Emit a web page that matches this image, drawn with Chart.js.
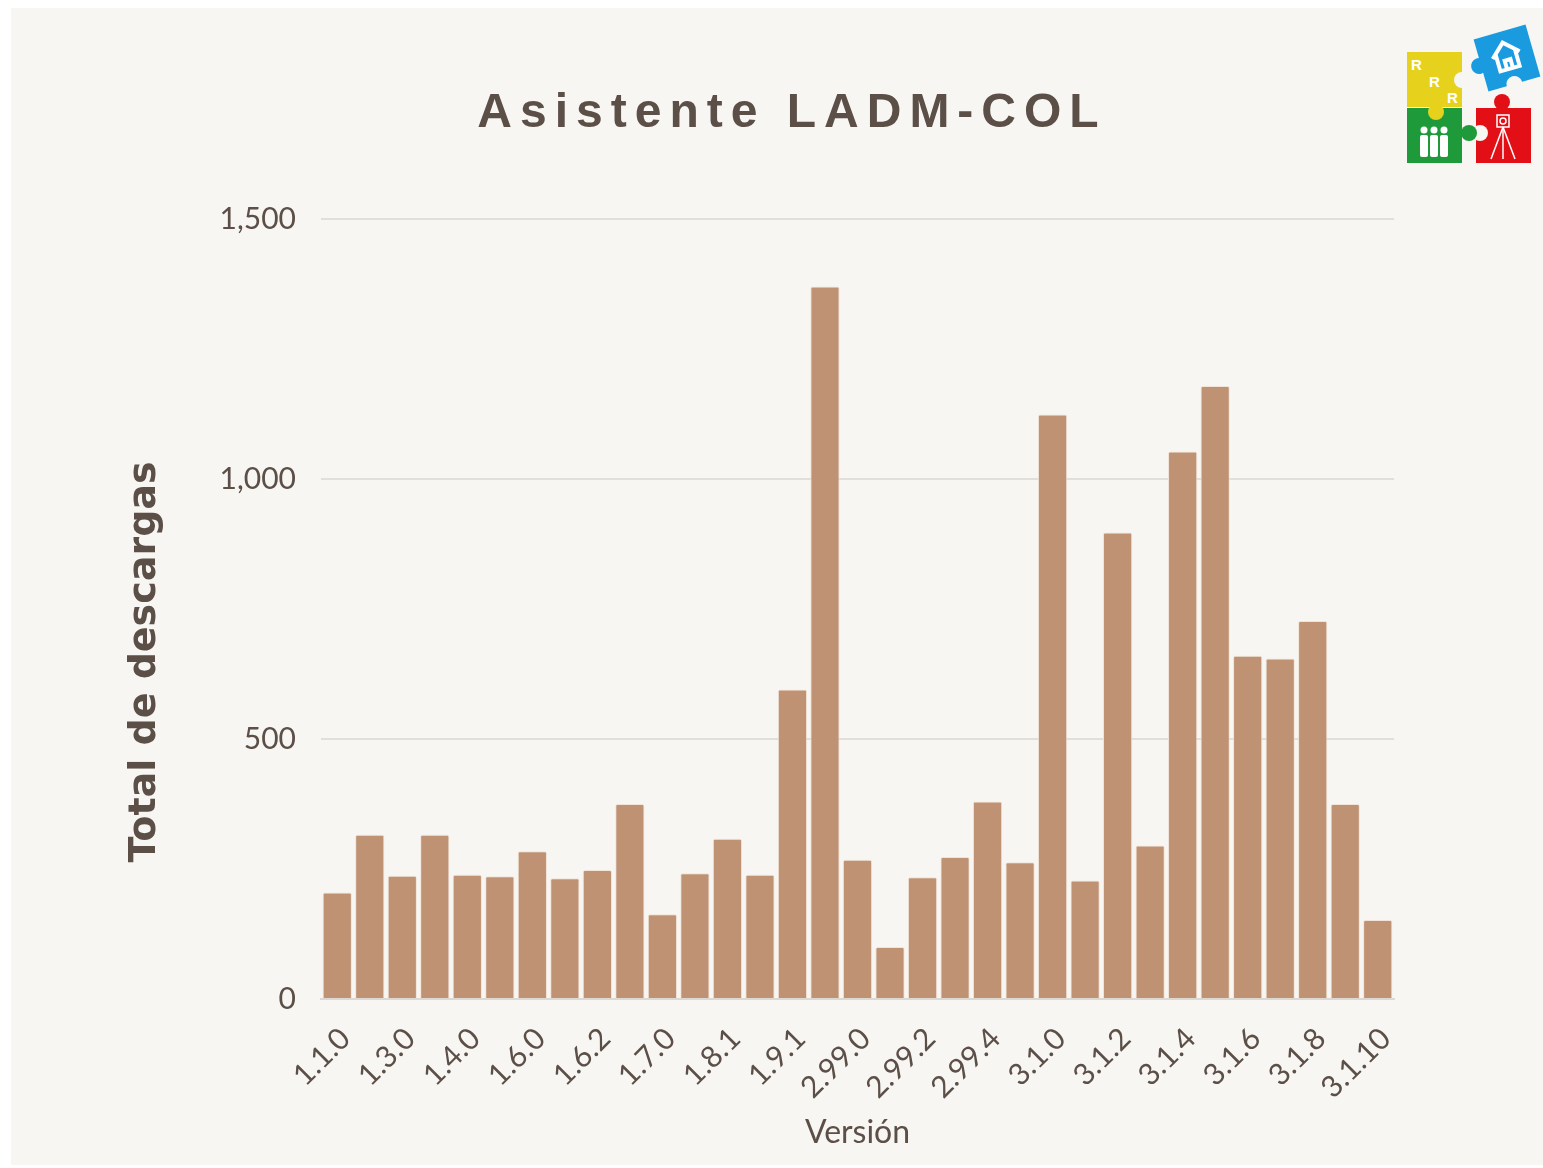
<!DOCTYPE html>
<html>
<head>
<meta charset="utf-8">
<script src="https://cdn.jsdelivr.net/npm/chart.js@4.4.0/dist/chart.umd.min.js"></script>
<style>
  html, body { margin: 0; padding: 0; background: #ffffff; }
  #wrap { position: relative; width: 1543px; height: 1168px; }
  #card { position: absolute; left: 11px; top: 8px; width: 1532px; height: 1157px; background: #f7f6f3; }
  canvas { position: absolute; left: 0; top: 0; }
  #logo { position: absolute; left: 1400px; top: 15px; width: 143px; height: 160px; }
</style>
</head>
<body>
<div id="wrap">
  <div id="card"></div>
  <canvas id="c" width="1543" height="1168"></canvas>
  <svg id="logo" viewBox="0 0 143 160" xmlns="http://www.w3.org/2000/svg">
    <!-- blue piece -->
    <g transform="rotate(-16 107 43)">
      <rect x="80" y="16" width="54" height="54" fill="#1a9be0"/>
      <circle cx="78" cy="43" r="8" fill="#1a9be0"/>
      <circle cx="107" cy="70" r="8" fill="#f7f6f3"/>
      <path d="M93 40 L107 27 L121 40 M97 37 L97 54 L117 54 L117 37 M104 54 L104 45 L110 45 L110 54" stroke="#fff" stroke-width="4" fill="none" stroke-linejoin="miter"/>
    </g>
    <!-- yellow piece -->
    <rect x="7" y="37" width="55" height="55" fill="#e6d21c"/>
    <circle cx="62" cy="65" r="8" fill="#f7f6f3"/>
    <text x="11" y="55" font-family="Liberation Sans" font-weight="bold" font-size="15" fill="#fff">R</text>
    <text x="29" y="72" font-family="Liberation Sans" font-weight="bold" font-size="15" fill="#fff">R</text>
    <text x="47" y="88" font-family="Liberation Sans" font-weight="bold" font-size="15" fill="#fff">R</text>
    <!-- green piece -->
    <rect x="7" y="93" width="55" height="55" fill="#1f9a3a"/>
    <circle cx="36" cy="97" r="8" fill="#e6d21c"/>
    <!-- red piece -->
    <rect x="76" y="93" width="55" height="55" fill="#e30f17"/>
    <circle cx="102" cy="87" r="8" fill="#e30f17"/>
    <circle cx="80" cy="118" r="8" fill="#f7f6f3"/>
    <circle cx="69" cy="118" r="8" fill="#1f9a3a"/>
    <!-- people -->
    <g fill="#fff">
      <circle cx="24" cy="115" r="3.5"/><circle cx="34" cy="115" r="3.5"/><circle cx="44" cy="115" r="3.5"/>
      <rect x="20" y="120" width="8" height="22" rx="2"/>
      <rect x="30" y="120" width="8" height="22" rx="2"/>
      <rect x="40" y="120" width="8" height="22" rx="2"/>
    </g>
    <!-- tripod -->
    <g stroke="#fff" stroke-width="1.5" fill="none">
      <rect x="97" y="100" width="12" height="12"/>
      <circle cx="103" cy="106" r="3"/>
      <line x1="103" y1="112" x2="91" y2="144"/>
      <line x1="103" y1="112" x2="115" y2="144"/>
      <line x1="103" y1="112" x2="103" y2="144"/>
    </g>
  </svg>
</div>
<script>
const categories = ["1.1.0","1.2.0","1.3.0","1.3.1","1.4.0","1.5.0","1.6.0","1.6.1","1.6.2","1.6.3","1.7.0","1.8.0","1.8.1","1.9.0","1.9.1","1.9.2","2.99.0","2.99.1","2.99.2","2.99.3","2.99.4","3.0.0","3.1.0","3.1.1","3.1.2","3.1.3","3.1.4","3.1.5","3.1.6","3.1.7","3.1.8","3.1.9","3.1.10"];
const downloads = [205,316,237,316,239,236,284,232,248,375,163,242,308,239,595,1370,268,100,234,273,380,263,1124,228,897,295,1053,1179,660,655,727,375,152];
const yTicks = [0,500,1000,1500];
const chartTitle = "Asistente LADM-COL";
const yTitle = "Total de descargas";
const xTitle = "Versión";

const textColor = "#5b4f47";

const customText = {
  id: "customText",
  afterDraw(chart) {
    const ctx = chart.ctx;
    ctx.save();
    ctx.fillStyle = textColor;
    ctx.letterSpacing = "8px";
    ctx.font = "bold 48px 'Liberation Sans', Arial, sans-serif";
    ctx.textAlign = "center";
    ctx.textBaseline = "alphabetic";
    ctx.fillText(chartTitle, 792, 127);
    ctx.restore();

    ctx.save();
    ctx.fillStyle = textColor;
    ctx.font = "bold 38px 'DejaVu Sans', sans-serif";
    ctx.translate(145, 662);
    ctx.rotate(-Math.PI / 2);
    ctx.textAlign = "center";
    ctx.textBaseline = "middle";
    ctx.fillText(yTitle, 0, 0);
    ctx.restore();
  }
};

new Chart(document.getElementById("c"), {
  type: "bar",
  data: {
    labels: categories,
    datasets: [{
      data: downloads,
      backgroundColor: "#c09274",
      borderColor: "rgba(240,225,212,0.9)",
      borderWidth: 1,
      borderRadius: 2,
      borderSkipped: "bottom",
      barPercentage: 0.9,
      categoryPercentage: 1.0
    }]
  },
  options: {
    responsive: false,
    animation: false,
    locale: "en-US",
    layout: { padding: { left: 0, right: 149, top: 219, bottom: 0 } },
    plugins: {
      legend: { display: false },
      title: { display: false },
      tooltip: { enabled: false }
    },
    scales: {
      x: {
        grid: { display: false },
        border: { display: true, color: "#ddd8d2", width: 2 },
        ticks: {
          autoSkip: false,
          minRotation: 45,
          maxRotation: 45,
          padding: 14,
          labelOffset: 8,
          color: textColor,
          font: { family: "Lato, 'Open Sans', sans-serif", size: 30 },
          callback: function(v, i) { return i % 2 === 0 ? categories[i] : null; }
        },
        title: {
          display: true,
          text: xTitle,
          color: textColor,
          font: { family: "Lato, 'Open Sans', sans-serif", size: 32 },
          padding: { top: 0, bottom: 16 }
        },
        afterFit(scale) { scale.height = 169; }
      },
      y: {
        min: 0,
        max: 1500,
        afterBuildTicks(scale) { scale.ticks = yTicks.map(v => ({ value: v })); },
        grid: { color: "#e2dfda", lineWidth: 2, drawTicks: false },
        border: { display: false },
        ticks: {
          padding: 25,
          color: textColor,
          font: { family: "Lato, 'Open Sans', sans-serif", size: 30 },
          callback: v => v.toLocaleString("en-US")
        },
        afterFit(scale) { scale.width = 321; }
      }
    }
  },
  plugins: [customText]
});
</script>
</body>
</html>
